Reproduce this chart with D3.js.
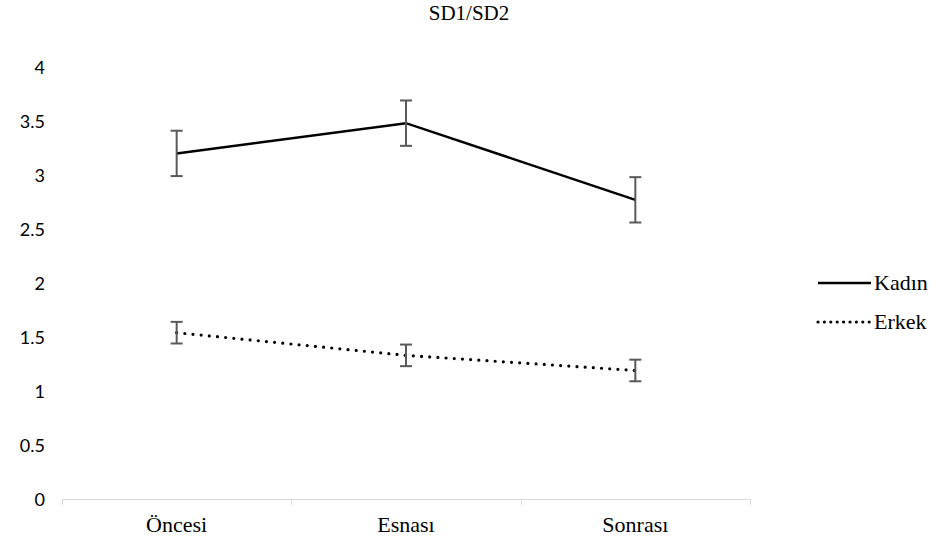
<!DOCTYPE html>
<html>
<head>
<meta charset="utf-8">
<script src="https://cdn.jsdelivr.net/npm/d3@7"></script>
<style>
  body { margin: 0; background: #fff; }
</style>
</head>
<body>
<div id="chart"></div>
<script>
// Data
let categories = ['Öncesi', 'Esnası', 'Sonrası'];
let kadin = [3.2, 3.48, 2.77];
let kadinErr = [0.21, 0.21, 0.21];
let erkek = [1.54, 1.33, 1.19];
let erkekErr = [0.1, 0.1, 0.1];
let yTicks = [0, 0.5, 1, 1.5, 2, 2.5, 3, 3.5, 4];

let serif = 'Tinos, "Liberation Serif", "DejaVu Serif", serif';
let sans = 'Lato, "Open Sans", sans-serif';

let width = 938;
let height = 541;

let svg = d3.select('#chart')
	.append('svg')
	.attr('width', width)
	.attr('height', height);

let x = d3.scaleBand()
	.domain(categories)
	.range([62, 750]);

let y = d3.scaleLinear()
	.domain([0, 4])
	.range([499, 67]);

// Title
svg.append('text')
	.style('font-family', serif)
	.style('font-size', '21px')
	.attr('x', 469)
	.attr('y', 20)
	.attr('text-anchor', 'middle')
	.text('SD1/SD2');

// Y axis labels
svg.selectAll('.ylab')
	.data(yTicks)
	.enter()
	.append('text')
	.attr('class', 'ylab')
	.style('font-family', sans)
	.style('font-size', '18px')
	.attr('x', 45)
	.attr('y', d => y(d) + 6.5)
	.attr('text-anchor', 'end')
	.attr('fill', '#000')
	.text(d => d);

// X axis
let gx = svg.append('g')
	.attr('transform', 'translate(0,499)');
gx.append('line')
	.attr('x1', x.range()[0])
	.attr('x2', x.range()[1])
	.attr('y1', 0.5)
	.attr('y2', 0.5)
	.attr('stroke', '#d9d9d9');
// band boundary ticks
let bounds = categories.map(c => x(c)).concat([x.range()[1]]);
gx.selectAll('.btick')
	.data(bounds)
	.enter()
	.append('line')
	.attr('x1', d => Math.round(d) + 0.5)
	.attr('x2', d => Math.round(d) + 0.5)
	.attr('y1', 0)
	.attr('y2', 6)
	.attr('stroke', '#d9d9d9');

svg.selectAll('.xlab')
	.data(categories)
	.enter()
	.append('text')
	.style('font-family', serif)
	.style('font-size', '22px')
	.attr('x', d => x(d) + x.bandwidth() / 2)
	.attr('y', 532)
	.attr('text-anchor', 'middle')
	.text(d => d);

let cx = d => x(d) + x.bandwidth() / 2;

function drawSeries(vals, errs, dashed) {
	let pts = categories.map((c, i) => [cx(c), y(vals[i])]);
	let line = d3.line();
	let path = svg.append('path')
		.attr('d', line(pts))
		.attr('fill', 'none')
		.attr('stroke', '#000');
	if (dashed) {
		path.attr('stroke-width', 3.2)
			.attr('stroke-linecap', 'round')
			.attr('stroke-dasharray', '0,8.2');
	} else {
		path.attr('stroke-width', 2.5);
	}
	categories.forEach((c, i) => {
		let xc = cx(c);
		let y1 = y(vals[i] + errs[i]);
		let y2 = y(vals[i] - errs[i]);
		let g = svg.append('g')
			.attr('stroke', '#595959')
			.attr('stroke-width', 2);
		g.append('line').attr('x1', xc).attr('x2', xc).attr('y1', y1).attr('y2', y2);
		g.append('line').attr('x1', xc - 6).attr('x2', xc + 6).attr('y1', y1).attr('y2', y1);
		g.append('line').attr('x1', xc - 6).attr('x2', xc + 6).attr('y1', y2).attr('y2', y2);
	});
}

drawSeries(kadin, kadinErr, false);
drawSeries(erkek, erkekErr, true);

// Legend
let legend = [['Kadın', false, 283], ['Erkek', true, 322]];
legend.forEach(l => {
	let p = svg.append('line')
		.attr('x1', 818)
		.attr('x2', 871)
		.attr('y1', l[2])
		.attr('y2', l[2])
		.attr('stroke', '#000');
	if (l[1]) {
		p.attr('stroke-width', 3.2)
			.attr('stroke-linecap', 'round')
			.attr('stroke-dasharray', '0,6.4');
	} else {
		p.attr('stroke-width', 2.5);
	}
	svg.append('text')
		.style('font-family', serif)
		.style('font-size', '22px')
		.attr('x', 874)
		.attr('y', l[2] + 7)
		.text(l[0]);
});
</script>
</body>
</html>
